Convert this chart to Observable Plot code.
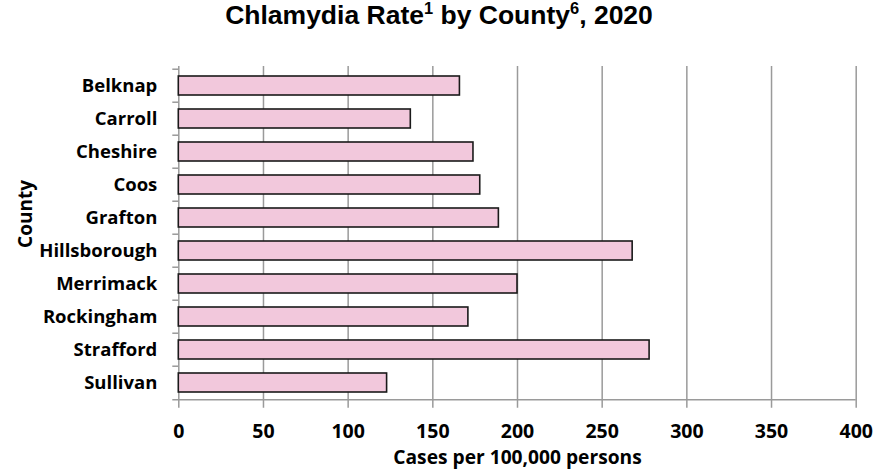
<!DOCTYPE html>
<html><head><meta charset="utf-8">
<script src="https://cdn.jsdelivr.net/npm/d3@7"></script>
<script src="https://cdn.jsdelivr.net/npm/@observablehq/plot@0.6"></script>
<style>
body{margin:0;background:#fff;width:878px;height:474px;overflow:hidden}
#title{height:48px;line-height:48px;text-align:center;font:bold 26.5px "Liberation Sans",Arial,sans-serif;color:#000;white-space:nowrap}
#title sup{font-size:0.62em;vertical-align:baseline;position:relative;top:-0.6em}
#chart svg{display:block}
</style></head><body>
<div id="title">Chlamydia Rate<sup>1</sup> by County<sup>6</sup>, 2020</div>
<div id="chart"></div>
<script>
const counties = ["Belknap","Carroll","Cheshire","Coos","Grafton","Hillsborough","Merrimack","Rockingham","Strafford","Sullivan"];
const rates = [166, 137, 174, 178, 189, 268, 200, 171, 278, 123];
const xTicks = [0, 50, 100, 150, 200, 250, 300, 350, 400];
const xLabel = "Cases per 100,000 persons";
const yLabel = "County";

const W = 878, H = 426, mt = 18, mb = 72.3, ml = 178.3, mr = 22.3;
const step = (H - mt - mb) / counties.length;
const data = counties.map((c, i) => ({county: c, rate: rates[i]}));
const font = "'Open Sans', Lato, sans-serif";
const grid = "#9a9a9a";

const chart = Plot.plot({
  width: W, height: H,
  marginTop: mt, marginBottom: mb, marginLeft: ml, marginRight: mr,
  style: {fontFamily: font, fontSize: "18.5px", fontWeight: "bold", color: "#000", background: "#fff"},
  x: {domain: [0, 400], axis: null},
  y: {domain: counties, paddingInner: 0.43, paddingOuter: 0.215, axis: null},
  marks: [
    Plot.ruleX(xTicks, {x: d => d, stroke: grid, strokeWidth: 1.5, insetBottom: -6}),
    Plot.ruleY(counties, {y: d => d, x1: 0, x2: 0, insetLeft: -6, dy: -step / 2, stroke: grid, strokeWidth: 1.5}),
    Plot.ruleY([counties[counties.length - 1]], {y: d => d, x1: 0, x2: 400, insetLeft: -6, dy: step / 2, stroke: grid, strokeWidth: 1.5}),
    Plot.barX(data, {y: "county", x: "rate", fill: "#F2C8DC", stroke: "#1a1a1a", strokeWidth: 1.6}),
    Plot.axisX({ticks: xTicks, tickSize: 0, tickPadding: 21.5, fill: "#000", label: null, fontSize: 19.5, tickFormat: d => String(d)}),
    Plot.axisY({tickSize: 0, tickPadding: 21.5, fill: "#000", label: null}),
    Plot.text([yLabel], {text: d => d, frameAnchor: "left", rotate: -90, dx: -(ml - 25), dy: 13.6, fontSize: 19, fill: "#000"}),
    Plot.text([xLabel], {text: d => d, frameAnchor: "bottom", dy: 61.5, fontSize: 19.2, fill: "#000"})
  ]
});
document.getElementById("chart").appendChild(chart);
</script></body></html>
